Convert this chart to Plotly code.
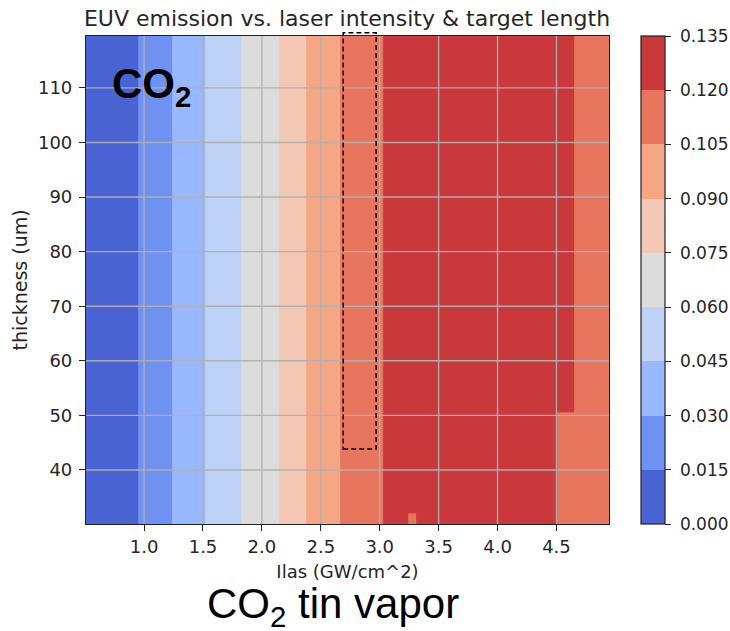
import plotly.graph_objects as go

# ---- data ----
# laser intensity bin edges (GW/cm^2) where the emission band changes
intensity_edges = [0.50, 0.952, 1.24, 1.52, 1.824, 2.147, 2.375, 2.665, 3.03, 3.24, 3.31, 4.51, 4.647, 4.95]
# target thickness bin edges (um)
thickness_edges = [30.0, 32.0, 50.5, 120.0]
# EUV emission in each cell (rows = thickness bins, columns = intensity bins)
emission_low = [0.008, 0.022, 0.038, 0.052, 0.068, 0.082, 0.098, 0.112, 0.127, 0.115, 0.127, 0.112, 0.112]
emission_mid = [0.008, 0.022, 0.038, 0.052, 0.068, 0.082, 0.098, 0.112, 0.127, 0.127, 0.127, 0.112, 0.112]
emission_high = [0.008, 0.022, 0.038, 0.052, 0.068, 0.082, 0.098, 0.112, 0.127, 0.127, 0.127, 0.127, 0.112]

levels = [0.000, 0.015, 0.030, 0.045, 0.060, 0.075, 0.090, 0.105, 0.120, 0.135]
band_colors = ["#4a63d3", "#6f91f1", "#98b9ff", "#bed2f6", "#dcdcdc",
               "#f2c8b4", "#f5a685", "#e8765e", "#c9383a"]

x_ticks = [1.0, 1.5, 2.0, 2.5, 3.0, 3.5, 4.0, 4.5]
y_ticks = [40, 50, 60, 70, 80, 90, 100, 110]

x_range = [0.507, 4.946]
y_range = [30.1, 119.5]

# highlighted region (dashed box)
box_x = [2.69, 2.97]
box_y = [43.85, 120.1]

# ---- figure ----
nb = len(band_colors)
colorscale = []
for i, c in enumerate(band_colors):
    colorscale.append([i / nb, c])
    colorscale.append([(i + 1) / nb, c])

font_main = "DejaVu Sans"
txt_col = "#262626"

fig = go.Figure()
fig.add_trace(go.Heatmap(
    x=intensity_edges, y=thickness_edges,
    z=[emission_low, emission_mid, emission_high],
    zmin=levels[0], zmax=levels[-1],
    colorscale=colorscale,
    showscale=True,
    hoverinfo="skip",
    colorbar=dict(
        tickvals=levels,
        ticktext=[f" {v:.3f}" for v in levels],
        ticks="outside", ticklen=6, tickwidth=1.2, tickcolor="#222",
        tickfont=dict(family=font_main, size=17, color=txt_col),
        outlinecolor="#222", outlinewidth=1.2,
        thickness=24, thicknessmode="pixels",
        len=1, lenmode="fraction", y=0.5, yanchor="middle",
        x=(641 - 86) / 523, xanchor="left", xpad=0, ypad=0,
    ),
))

shapes = []
for xv in x_ticks:
    shapes.append(dict(type="line", xref="x", yref="y domain", x0=xv, x1=xv, y0=0, y1=1,
                       line=dict(color="rgba(176,176,176,0.95)", width=1.4), layer="above"))
for yv in y_ticks:
    shapes.append(dict(type="line", xref="x domain", yref="y", x0=0, x1=1, y0=yv, y1=yv,
                       line=dict(color="rgba(176,176,176,0.95)", width=1.4), layer="above"))

def ydom(v):
    return (v - y_range[0]) / (y_range[1] - y_range[0])

shapes.append(dict(type="rect", xref="x", yref="y domain",
                   x0=box_x[0], x1=box_x[1], y0=ydom(box_y[0]), y1=ydom(box_y[1]),
                   line=dict(color="black", width=1.5, dash="5px,3px"),
                   fillcolor="rgba(0,0,0,0)", layer="above"))

fig.update_layout(
    width=730, height=631,
    margin=dict(l=86, r=121, t=36, b=107, autoexpand=False),
    paper_bgcolor="white", plot_bgcolor="white",
    title=dict(text="EUV emission vs. laser intensity & target length",
               font=dict(family=font_main, size=22, color=txt_col),
               x=(347) / 730, xanchor="center", xref="container",
               y=1 - 18 / 631, yanchor="middle", yref="container"),
    shapes=shapes,
    annotations=[
        dict(text="<b>CO<sub>2</sub></b>", xref="paper", yref="paper",
             x=(110 - 86) / 523, y=1 - (58 - 36) / 488, xanchor="left", yanchor="top",
             showarrow=False, font=dict(family="Liberation Sans", size=42, color="black")),
        dict(text="CO<sub>2</sub> tin vapor", xref="paper", yref="paper",
             x=(333 - 86) / 523, y=-(578 - 524) / 488, xanchor="center", yanchor="top",
             showarrow=False, font=dict(family="Liberation Sans", size=42, color="black")),
    ],
)

axis_common = dict(
    showgrid=False, zeroline=False, showline=True, mirror=True,
    linecolor="#222", linewidth=1.2,
    ticks="outside", ticklen=6, tickwidth=1.2, tickcolor="#222",
    tickfont=dict(family=font_main, size=18, color=txt_col),
)
fig.update_xaxes(range=x_range, tickvals=x_ticks, ticktext=[f"{v:.1f}" for v in x_ticks],
                 title=dict(text="Ilas (GW/cm^2)", font=dict(family=font_main, size=18, color=txt_col), standoff=9),
                 **axis_common)
fig.update_yaxes(range=y_range, tickvals=y_ticks, ticktext=[str(v) for v in y_ticks],
                 ticklabelstandoff=3,
                 title=dict(text="thickness (um)", font=dict(family=font_main, size=19, color=txt_col), standoff=5),
                 **axis_common)

fig.write_html("out.html")
